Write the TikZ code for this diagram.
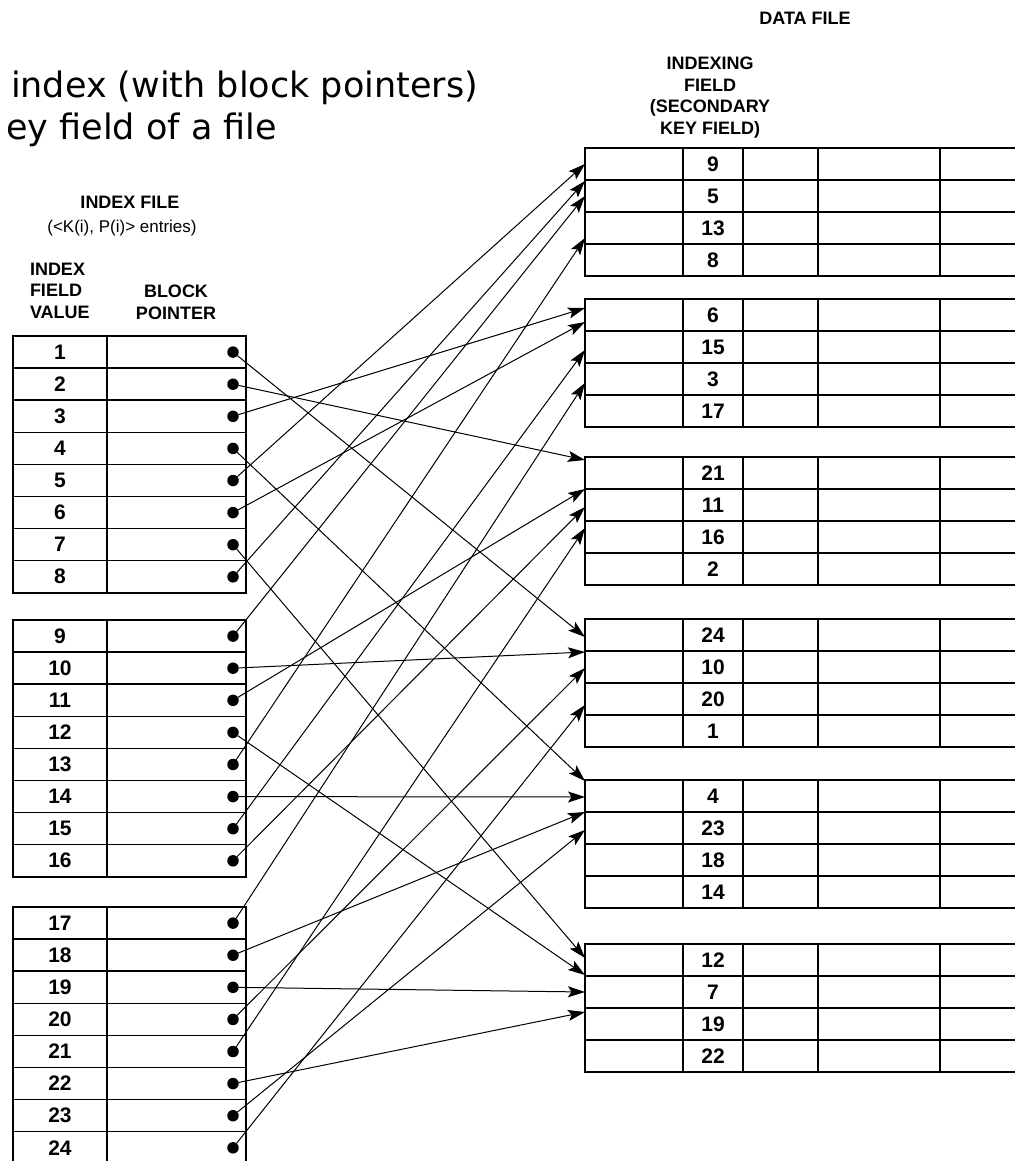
\documentclass[tikz,border=0pt]{standalone}
\usepackage{fontspec}
\setmainfont{Liberation Sans}
\newfontfamily\slidefont{DejaVu Sans}
\usepackage{tikz}
\usetikzlibrary{arrows.meta,positioning}

\begin{document}
\begin{tikzpicture}[x=1pt, y=-1pt, line width=1.5pt]

    \tikzstyle{every node}=[inner sep=0pt, outer sep=0pt]
    \tikzstyle{cell}=[draw, anchor=north west, minimum height=32.1pt, font=\fontsize{21}{22}\selectfont\bfseries]
    \tikzstyle{rec}=[draw, anchor=north west, minimum height=32pt, font=\fontsize{21}{22}\selectfont\bfseries]
    \tikzstyle{head}=[font=\fontsize{18}{21.5}\selectfont\bfseries, align=center]
    \tikzstyle{dot}=[circle, fill, minimum size=11.5pt]
    \tikzstyle{ptr}=[-{Stealth[length=17pt, width=11pt, inset=3.5pt]}, line width=1pt]

    \useasboundingbox (0,0) rectangle (1014,1161);

    % slide title, cut at the left edge
    \node[anchor=base east, font=\slidefont\fontsize{35}{42}\selectfont] (title1) at (478,98) {index (with block pointers)};
    \node[anchor=base east, font=\slidefont\fontsize{35}{42}\selectfont] (title2) at (277,140) {ey field of a file};

    % index file
    \node[head] (idxfile) at (130,202) {INDEX FILE};
    \node[font=\fontsize{17}{20}\selectfont] (entries) at (122,228) {(<K(i), P(i)> entries)};
    \node[head, align=left, anchor=north west] (fieldval) at (30,263) {INDEX\\FIELD\\VALUE};
    \node[head, anchor=north] (blockptr) at (176,285) {BLOCK\\POINTER};

    \foreach \blk/\top in {0/336, 1/620, 2/907} {
      \foreach \r in {1,...,8} {
        \pgfmathtruncatemacro{\k}{\blk*8+\r}
        \node[cell, minimum width=94pt] (key\k) at (13,\top+\r*32.1-32.1) {\k};
        \node[cell, minimum width=139pt] (blk\k) at (107,\top+\r*32.1-32.1) {};
        \node[dot] (ptr\k) at (233,\top+\r*32.1-16) {};
      }
    }

    % data file
    \node[head] (datafile) at (805,18) {DATA FILE};
    \node[head, anchor=north] (idxfield) at (710,57) {INDEXING\\FIELD\\(SECONDARY\\KEY FIELD)};

    \foreach \blk/\top/\ka/\kb/\kc/\kd in {1/148/9/5/13/8, 2/299/6/15/3/17, 3/457/21/11/16/2,
                                          4/619/24/10/20/1, 5/780/4/23/18/14, 6/944/12/7/19/22} {
      \foreach \key [count=\r] in {\ka,\kb,\kc,\kd} {
        \node[rec, minimum width=98pt] (recA\key) at (585,\top+\r*32-32) {};
        \node[rec, minimum width=60pt] (rec\key) at (683,\top+\r*32-32) {\key};
        \node[rec, minimum width=75pt] (recC\key) at (743,\top+\r*32-32) {};
        \node[rec, minimum width=122pt] (recD\key) at (818,\top+\r*32-32) {};
        \node[rec, minimum width=100pt] (recE\key) at (940,\top+\r*32-32) {};
      }
    }

    % where the block pointers hit the data blocks
    \coordinate (t5) at (585,164);  \coordinate (t8) at (585,181);
    \coordinate (t9) at (585,196);  \coordinate (t13) at (585,238);
    \coordinate (t3) at (585,308);  \coordinate (t6) at (585,322);
    \coordinate (t15) at (585,350); \coordinate (t17) at (585,383);
    \coordinate (t2) at (585,460);  \coordinate (t11) at (585,489);
    \coordinate (t16) at (585,507); \coordinate (t21) at (585,528);
    \coordinate (t1) at (585,637);  \coordinate (t10) at (585,652);
    \coordinate (t20) at (585,668); \coordinate (t24) at (585,705);
    \coordinate (t4) at (585,781);  \coordinate (t14) at (585,797);
    \coordinate (t18) at (585,812); \coordinate (t23) at (585,830);
    \coordinate (t7) at (585,958);  \coordinate (t12) at (585,975);
    \coordinate (t19) at (585,992); \coordinate (t22) at (585,1012);

    \foreach \k in {1,...,24}
      \draw[ptr] (ptr\k) -- (t\k);

\end{tikzpicture}
\end{document}
